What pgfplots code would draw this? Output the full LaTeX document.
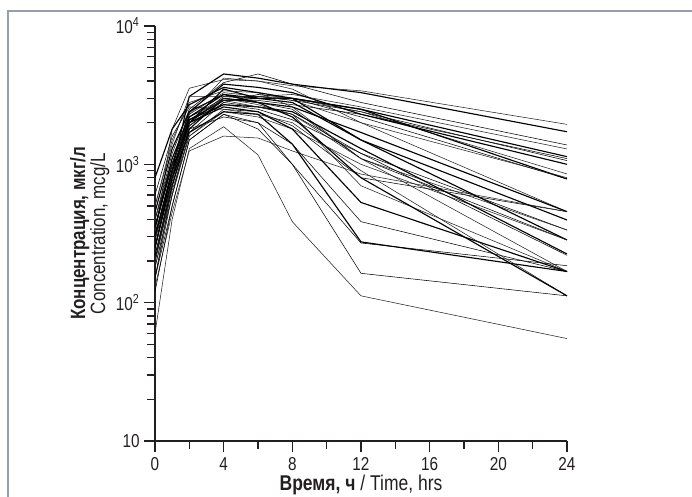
\documentclass[border=0pt]{standalone}
\usepackage{fontspec}
\setmainfont{Liberation Sans}[FakeStretch=0.82]
\usepackage{pgfplots}
\pgfplotsset{compat=1.18}
\definecolor{framegray}{RGB}{150,160,168}
\definecolor{ink}{RGB}{35,31,32}
\begin{document}
\begin{tikzpicture}
\useasboundingbox (-116.25pt,-41.25pt) rectangle (402.75pt,330.75pt);
\draw[framegray, line width=1.6pt] (-110.25pt,-60pt) -- (-110.25pt,322.5pt) -- (420pt,322.5pt);
\begin{axis}[
    at={(0pt,0pt)}, anchor=south west,
    scale only axis, width=309pt, height=311.25pt,
    xmin=0, xmax=24, ymode=log, ymin=10, ymax=10000,
    axis lines=left,
    axis line style={-, line width=0.9pt, ink},
    xtick={0,4,...,24}, minor xtick={2,6,...,22},
    ytick={10,100,1000,10000},
    yticklabels={10,10\textsuperscript{2},10\textsuperscript{3},10\textsuperscript{4}},
    minor ytick={20,30,40,50,60,70,80,90,200,300,400,500,600,700,800,900,2000,3000,4000,5000,6000,7000,8000,9000},
    /pgf/number format/assume math mode=true,
    tick align=outside, major tick length=8pt, minor tick length=6pt,
    tick style={line width=0.9pt, ink},
    tick label style={font=\fontsize{14}{16}\selectfont, text=ink},
    xticklabel style={yshift=-1pt},
    xlabel={\textbf{Время, ч} / Time, hrs},
    xlabel style={font=\fontsize{16}{18}\selectfont, text=ink, yshift=4pt},
    ylabel={\textbf{Концентрация, мкг/л}\\Concentration, mcg/L},
    ylabel style={font=\fontsize{15.5}{15}\selectfont, text=ink, align=center, yshift=-2pt},
    cycle list={{ink, line width=0.85pt, mark=none}},
]
% group with slow elimination
\addplot coordinates {(0,300)(1,1800)(2,3550)(4,4100)(6,4000)(8,3700)(12,3400)(24,1945)};
\addplot coordinates {(0,250)(1,900)(2,3100)(4,4500)(6,4200)(8,3800)(12,3300)(24,1720)};
\addplot coordinates {(0,400)(1,1200)(2,2500)(4,3900)(6,4500)(8,3800)(12,2800)(24,1380)};
\addplot coordinates {(0,200)(1,800)(2,2200)(4,3000)(6,3100)(8,3200)(12,2600)(24,1292)};
\addplot coordinates {(0,350)(1,1000)(2,2400)(4,3200)(6,3000)(8,3000)(12,2500)(24,1136)};
\addplot coordinates {(0,150)(1,700)(2,2000)(4,3100)(6,3100)(8,2900)(12,2400)(24,1064)};
\addplot coordinates {(0,500)(1,1400)(2,3100)(4,3100)(6,3100)(8,3000)(12,2400)(24,852)};
\addplot coordinates {(0,300)(1,900)(2,2100)(4,2900)(6,3000)(8,3000)(12,2500)(24,784)};
\addplot coordinates {(0,180)(1,600)(2,1900)(4,2800)(6,3200)(8,3000)(12,2200)(24,784)};
\addplot coordinates {(0,250)(1,800)(2,2300)(4,3300)(6,3100)(8,2900)(12,2000)(24,800)};
\addplot coordinates {(0,450)(1,1300)(2,2400)(4,3800)(6,3600)(8,3300)(12,2300)(24,1000)};
\addplot coordinates {(0,280)(1,850)(2,1900)(4,2900)(6,2900)(8,2700)(12,2300)(24,1100)};
% intermediate group
\addplot coordinates {(0,400)(1,1100)(2,2300)(4,4200)(6,4000)(8,3500)(12,2000)(24,455)};
\addplot coordinates {(0,200)(1,700)(2,1800)(4,3000)(6,2800)(8,2600)(12,1700)(24,455)};
\addplot coordinates {(0,600)(1,1600)(2,2600)(4,2500)(6,2400)(8,1900)(12,800)(24,455)};
\addplot coordinates {(0,130)(1,450)(2,1250)(4,1600)(6,1550)(8,1250)(12,850)(24,455)};
\addplot coordinates {(0,300)(1,900)(2,2000)(4,3500)(6,3000)(8,2800)(12,1500)(24,396)};
\addplot coordinates {(0,150)(1,600)(2,1700)(4,2800)(6,2600)(8,2300)(12,1200)(24,335)};
\addplot coordinates {(0,500)(1,1500)(2,2800)(4,3400)(6,3300)(8,2600)(12,1100)(24,335)};
\addplot coordinates {(0,800)(1,1800)(2,2700)(4,3600)(6,3300)(8,3000)(12,1500)(24,284)};
\addplot coordinates {(0,250)(1,800)(2,2000)(4,3000)(6,2800)(8,2500)(12,1100)(24,284)};
\addplot coordinates {(0,200)(1,650)(2,1600)(4,2400)(6,2200)(8,1800)(12,1000)(24,284)};
\addplot coordinates {(0,350)(1,1000)(2,2100)(4,2700)(6,2600)(8,2400)(12,1300)(24,225)};
\addplot coordinates {(0,220)(1,750)(2,2000)(4,2700)(6,2500)(8,2100)(12,1200)(24,220)};
% fast elimination group
\addplot coordinates {(0,200)(1,700)(2,1900)(4,3000)(6,2700)(8,2300)(12,1100)(24,168)};
\addplot coordinates {(0,300)(1,900)(2,2000)(4,2600)(6,2400)(8,1800)(12,530)(24,168)};
\addplot coordinates {(0,150)(1,500)(2,1500)(4,2300)(6,2000)(8,1400)(12,385)(24,168)};
\addplot coordinates {(0,400)(1,1000)(2,2200)(4,2900)(6,2600)(8,2300)(12,700)(24,168)};
\addplot coordinates {(0,250)(1,800)(2,1700)(4,2400)(6,2300)(8,1400)(12,275)(24,168)};
\addplot coordinates {(0,220)(1,700)(2,1800)(4,2200)(6,2000)(8,1000)(12,270)(24,185)};
\addplot coordinates {(0,180)(1,600)(2,1600)(4,2500)(6,2300)(8,2000)(12,900)(24,112)};
\addplot coordinates {(0,350)(1,1100)(2,2200)(4,3200)(6,2800)(8,2200)(12,800)(24,112)};
\addplot coordinates {(0,120)(1,500)(2,1500)(4,2300)(6,1800)(8,1000)(12,163)(24,112)};
\addplot coordinates {(0,60)(1,400)(2,1300)(4,1870)(6,1170)(8,385)(12,112)(24,55)};
\end{axis}
\end{tikzpicture}
\end{document}
